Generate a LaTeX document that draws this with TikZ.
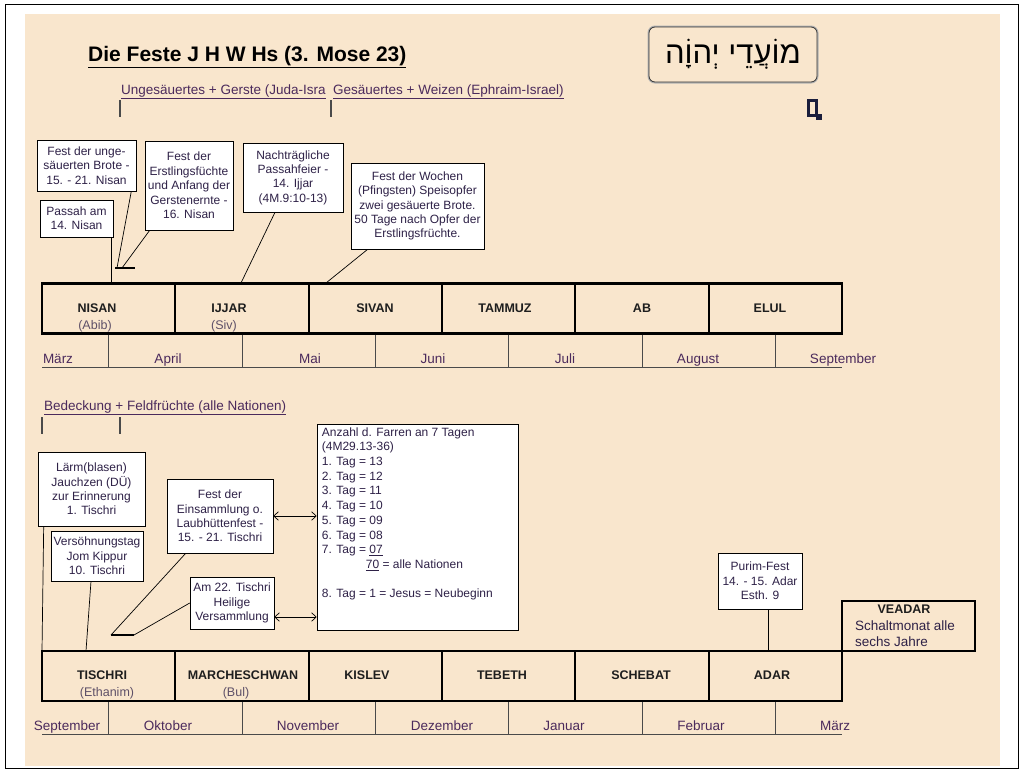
\documentclass[tikz,border=0pt]{standalone}
\usepackage{fontspec}
\setmainfont{Liberation Sans}
\newfontfamily\hebfont[Script=Hebrew]{Liberation Sans}
\TeXXeTstate=1
\usetikzlibrary{arrows.meta,positioning,calc}
\definecolor{paper}{HTML}{F9E6CD}
\definecolor{ink}{HTML}{2E2147}
\definecolor{monC}{HTML}{4B2A5C}
\definecolor{subC}{HTML}{5E5068}
\definecolor{darkC}{HTML}{1E1E1E}
\definecolor{iconC}{HTML}{1B1E3C}
\definecolor{tickC}{HTML}{4A4A4A}
\newcommand\boxfont{\fontsize{12}{14.4}\selectfont}
\tikzset{
  >={Straight Barb[length=1.6mm,width=3mm,line width=0.7pt]},
  ctitle/.style={font=\fontsize{21}{25}\selectfont\bfseries,text=black,inner sep=0pt},
  hdr/.style={font=\fontsize{13.5}{16}\selectfont,text=monC,inner sep=0pt},
  callout/.style={draw=black,fill=white,line width=0.6pt,align=center,font=\boxfont,
    text=ink,inner sep=1pt},
  notetxt/.style={font=\fontsize{12}{14.7}\selectfont,text=ink,align=left,inner sep=1pt},
  hebbox/.style={draw=black!80,line width=0.8pt,rounded corners=6pt,fill=paper,
    preaction={draw=black!30,line width=3pt},minimum width=168pt,minimum height=55pt},
  mcell/.style={draw=black,line width=2.2pt,minimum width=133.33pt,minimum height=50pt,inner sep=0pt},
  mname/.style={font=\fontsize{12.5}{15}\selectfont\bfseries,text=darkC,inner sep=0pt,anchor=base},
  msub/.style={font=\fontsize{12.5}{15}\selectfont,text=subC,inner sep=0pt,anchor=base},
  greg/.style={font=\fontsize{13.5}{16}\selectfont,text=monC,inner sep=0pt,anchor=base},
  lead/.style={draw=black,line width=0.7pt},
  foot/.style={draw=black,line width=2.5pt},
  tick/.style={draw=tickC,line width=0.8pt},
  htick/.style={draw=tickC,line width=1.4pt},
}
\begin{document}
\begin{tikzpicture}[x=1pt,y=-1pt]
\useasboundingbox (0,0) rectangle (1024,771);

% ---------- page ----------
\fill[white] (0,0) rectangle (1024,771);
\draw[black,line width=1.5pt] (5.5,4.5) rectangle (1018.5,768.5);
\fill[paper] (25,14) rectangle (1000,766);

% ---------- title ----------
\node[ctitle,anchor=west] (title) at (88,57) {\underline{Die Feste J H W Hs (3. Mose 23)}};
\node[hebbox] (moadei) at (733,54.5) {\fontsize{31}{34}\selectfont\hebfont\beginR מוֹעֲדֵי יְהוָֹה\endR};
\draw[iconC,line width=2.2pt] (808.5,100.5) rectangle (816.5,115.5);
\fill[iconC] (816,113.5) rectangle (822,119.5);

% ---------- upper headers ----------
\node[hdr,anchor=west] (ungL) at (121,92) {\underline{Ungesäuertes + Gerste (Juda-Isra}};
\node[hdr,anchor=west] (gesL) at (333,92) {\underline{Gesäuertes + Weizen (Ephraim-Israel)}};
\coordinate (tkA) at (120,100); \coordinate (tkB) at (331,100);
\draw[htick] (tkA) -- ++(0,17);
\draw[htick] (tkB) -- ++(0,17);

% ================= UPPER CALLOUTS =================
\node[callout,minimum width=99pt,minimum height=51pt] (festUng) at (86.5,165.5) {Fest der unge-\\säuerten Brote -\\15. - 21. Nisan};
\node[callout,minimum width=73pt,minimum height=37pt] (passah) at (76.5,218.5) {Passah am\\14. Nisan};
\node[callout,minimum width=88pt,minimum height=89pt] (erstl) at (189,185.5) {Fest der\\Erstlingsfüchte\\und Anfang der\\Gerstenernte -\\16. Nisan};
\node[callout,minimum width=100pt,minimum height=69pt] (nachPass) at (293,177.5) {Nachträgliche\\Passahfeier -\\14. Ijjar\\(4M.9:10-13)};
\node[callout,minimum width=133pt,minimum height=86pt] (wochen) at (417.5,206) {Fest der Wochen\\(Pfingsten) Speisopfer\\zwei gesäuerte Brote.\\50 Tage nach Opfer der\\Erstlingsfrüchte.};

\coordinate (pasEnd) at (111,283);
\coordinate (footA) at (117,268); \coordinate (footB) at (122,268);
\coordinate (footAL) at (115,268); \coordinate (footAR) at (135,268);
\coordinate (nachEnd) at (241,283);
\coordinate (wochEnd) at (326,283);
\draw[lead] (pasEnd |- passah.south) -- (pasEnd);
\draw[foot] (footAL) -- (footAR);
\draw[lead] ([xshift=-5pt]festUng.south east) -- (footA);
\draw[lead] ([xshift=5pt]erstl.south west) -- (footB);
\draw[lead] ([xshift=-18pt]nachPass.south) -- (nachEnd);
\draw[lead] ([xshift=17pt]wochen.south west) -- (wochEnd);

% ================= UPPER MONTH BAR =================
\node[mcell] (nisan) at (108.67,308.5) {};
\node[mcell] (ijjar) at (242,308.5) {};
\node[mcell] (sivan) at (375.33,308.5) {};
\node[mcell] (tammuz) at (508.67,308.5) {};
\node[mcell] (ab) at (642,308.5) {};
\node[mcell] (elul) at (775.33,308.5) {};
\node[mname] (nisanL) at (97,312.5) {NISAN}; \node[msub] (nisanS) at (95,329.5) {(Abib)};
\node[mname] (ijjarL) at (229,312.5) {IJJAR}; \node[msub] (ijjarS) at (224,329.5) {(Siv)};
\node[mname] (sivanL) at (375,312.5) {SIVAN};
\node[mname] (tammuzL) at (505,312.5) {TAMMUZ};
\node[mname] (abL) at (642,312.5) {AB};
\node[mname] (elulL) at (770,312.5) {ELUL};

\coordinate (uBaseL) at (42,367); \coordinate (uBaseR) at (842,367);
\draw[tick] (uBaseL) -- (uBaseR);
\draw[tick] (nisan.south) -- (nisan.south |- uBaseL);
\draw[tick] (ijjar.south) -- (ijjar.south |- uBaseL);
\draw[tick] (sivan.south) -- (sivan.south |- uBaseL);
\draw[tick] (tammuz.south) -- (tammuz.south |- uBaseL);
\draw[tick] (ab.south) -- (ab.south |- uBaseL);
\draw[tick] (elul.south) -- (elul.south |- uBaseL);
\node[greg] (gMaerzA) at (58,363) {März};
\node[greg] (gApril) at (168,363) {April};
\node[greg] (gMai) at (310,363) {Mai};
\node[greg] (gJuni) at (433,363) {Juni};
\node[greg] (gJuli) at (565,363) {Juli};
\node[greg] (gAugust) at (698,363) {August};
\node[greg] (gSeptA) at (843,363) {September};

% ---------- lower header ----------
\node[hdr,anchor=west] (bedL) at (44,408) {\underline{Bedeckung + Feldfrüchte (alle Nationen)}};
\coordinate (tkC) at (42,417); \coordinate (tkD) at (120,417);
\draw[htick] (tkC) -- ++(0,17);
\draw[htick] (tkD) -- ++(0,17);

% ================= LOWER CALLOUTS =================
\node[callout,minimum width=107pt,minimum height=74pt] (laerm) at (91.5,489) {Lärm(blasen)\\Jauchzen (DÜ)\\zur Erinnerung\\1. Tischri};
\node[callout,minimum width=92pt,minimum height=50pt] (versoehn) at (97,556) {Versöhnungstag\\Jom Kippur\\10. Tischri};
\node[callout,minimum width=106pt,minimum height=74pt] (einsamml) at (220,516) {Fest der\\Einsammlung o.\\Laubhüttenfest -\\15. - 21. Tischri};
\node[callout,minimum width=84pt,minimum height=52pt] (am22) at (232,603) {Am 22. Tischri\\Heilige\\Versammlung};
\node[callout,minimum width=201pt,minimum height=206pt] (farren) at (417.5,527) {};
\node[notetxt,anchor=north west] (farrenTxt) at ([xshift=4pt,yshift=-2.5pt]farren.north west)
  {Anzahl d. Farren an 7 Tagen\\(4M29.13-36)\\1. Tag = 13\\2. Tag = 12\\3. Tag = 11\\4. Tag = 10\\5. Tag = 09\\6. Tag = 08\\7. Tag = \underline{07}\\\hspace*{44pt}\underline{70} = alle Nationen\\[14.7pt]8. Tag = 1 = Jesus = Neubeginn};
\node[callout,minimum width=84pt,minimum height=56pt] (purim) at (760,581) {Purim-Fest\\14. - 15. Adar\\Esth. 9};

\coordinate (laermEnd) at (42,651);
\coordinate (versEnd) at (86,651);
\coordinate (footC) at (111,635); \coordinate (footCR) at (134,635);
\coordinate (purimEnd) at (768,651);
\coordinate (arrB) at ([yshift=-14pt]am22.east);
\draw[lead] ([xshift=6pt]laerm.south west) -- (laermEnd);
\draw[lead] ([xshift=-6pt]versoehn.south) -- (versEnd);
\draw[foot] (footC) -- (footCR);
\draw[lead] ([xshift=19pt]einsamml.south west) -- (footC);
\draw[lead] (am22.west) -- (footCR);
\draw[lead] ([xshift=8pt]purim.south) -- (purimEnd);
\draw[lead,<->] (einsamml.east) -- (einsamml.east -| farren.west);
\draw[lead,<->] (arrB) -- (arrB -| farren.west);

% ================= LOWER MONTH BAR =================
\node[mcell,minimum width=133pt] (veadar) at (908.5,626) {};
\node[mname] (veadarL) at (904,613.5) {VEADAR};
\node[greg,text=ink,align=left,anchor=west] (veadarN) at (855,633.5) {Schaltmonat alle\\sechs Jahre};
\node[mcell] (tischri) at (108.67,676) {};
\node[mcell] (marchesch) at (242,676) {};
\node[mcell] (kislev) at (375.33,676) {};
\node[mcell] (tebeth) at (508.67,676) {};
\node[mcell] (schebat) at (642,676) {};
\node[mcell] (adar) at (775.33,676) {};
\node[mname] (tischriL) at (102,679.5) {TISCHRI}; \node[msub] (tischriS) at (107,696.5) {(Ethanim)};
\node[mname] (marcheschL) at (243,679.5) {MARCHESCHWAN}; \node[msub] (marcheschS) at (236,696.5) {(Bul)};
\node[mname] (kislevL) at (367,679.5) {KISLEV};
\node[mname] (tebethL) at (502,679.5) {TEBETH};
\node[mname] (schebatL) at (641,679.5) {SCHEBAT};
\node[mname] (adarL) at (772,679.5) {ADAR};

\coordinate (lBaseL) at (42,734); \coordinate (lBaseR) at (842,734);
\draw[tick] (lBaseL) -- (lBaseR);
\draw[tick] (tischri.south) -- (tischri.south |- lBaseL);
\draw[tick] (marchesch.south) -- (marchesch.south |- lBaseL);
\draw[tick] (kislev.south) -- (kislev.south |- lBaseL);
\draw[tick] (tebeth.south) -- (tebeth.south |- lBaseL);
\draw[tick] (schebat.south) -- (schebat.south |- lBaseL);
\draw[tick] (adar.south) -- (adar.south |- lBaseL);
\node[greg] (gSeptB) at (67,730) {September};
\node[greg] (gOktober) at (168,730) {Oktober};
\node[greg] (gNovember) at (308,730) {November};
\node[greg] (gDezember) at (442,730) {Dezember};
\node[greg] (gJanuar) at (564,730) {Januar};
\node[greg] (gFebruar) at (701,730) {Februar};
\node[greg] (gMaerzB) at (835,730) {März};

\end{tikzpicture}
\end{document}
